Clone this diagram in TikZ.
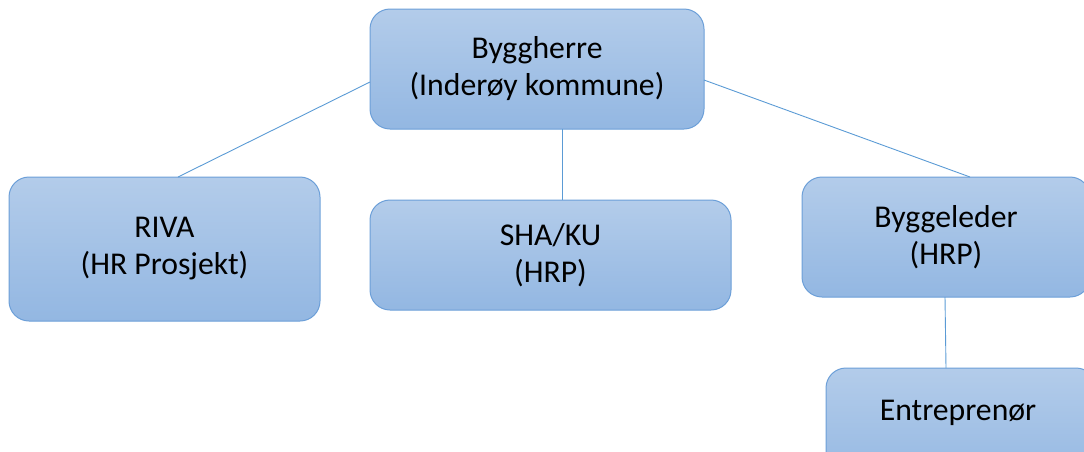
\documentclass[tikz,border=0pt]{standalone}
\usepackage{fontspec}
\setmainfont{Carlito}
\definecolor{boxtop}{HTML}{B3CCEA}
\definecolor{boxbot}{HTML}{93B7E2}
\definecolor{boxline}{HTML}{6C9FD8}
\definecolor{connline}{HTML}{5B9BD5}
\tikzset{
  orgbox/.style={draw=boxline, line width=1pt, rounded corners=20pt,
    top color=boxtop, bottom color=boxbot, inner sep=0pt, align=center,
    font=\fontsize{31.7}{37}\selectfont, text=black},
  conn/.style={draw=connline, line width=0.9pt}
}
\begin{document}
\begin{tikzpicture}[x=1pt,y=-1pt]
\useasboundingbox (0,0) rectangle (1084,451);
\node[orgbox, minimum width=334pt, minimum height=120pt] (bh) at (537,69) {Byggherre\\(Inderøy kommune)};
\node[orgbox, minimum width=311pt, minimum height=144pt] (riva) at (164.5,249) {RIVA\\(HR Prosjekt)};
\node[orgbox, minimum width=361pt, minimum height=110pt] (sha) at (550.5,255) {SHA/KU\\(HRP)};
\node[orgbox, minimum width=288pt, minimum height=120pt] (bl) at (946,237) {Byggeleder\\(HRP)};
\node[orgbox, minimum width=270pt, minimum height=120pt] (ent) at (961,428) {};
\node[font=\fontsize{31.7}{37}\selectfont] (entt) at (958,413) {Entreprenør};
\coordinate (bhL) at (370,82);
\coordinate (rivaT) at (178,177);
\coordinate (bhB) at (562,129);
\coordinate (shaT) at (562,200);
\coordinate (bhR) at (704,80);
\coordinate (blT) at (970,177);
\coordinate (blB) at (945,297);
\coordinate (entT) at (946,368);
\draw[conn] (bhL) -- (rivaT);
\draw[conn] (bhB) -- (shaT);
\draw[conn] (bhR) -- (blT);
\draw[conn] (blB) -- (entT);
\end{tikzpicture}
\end{document}
